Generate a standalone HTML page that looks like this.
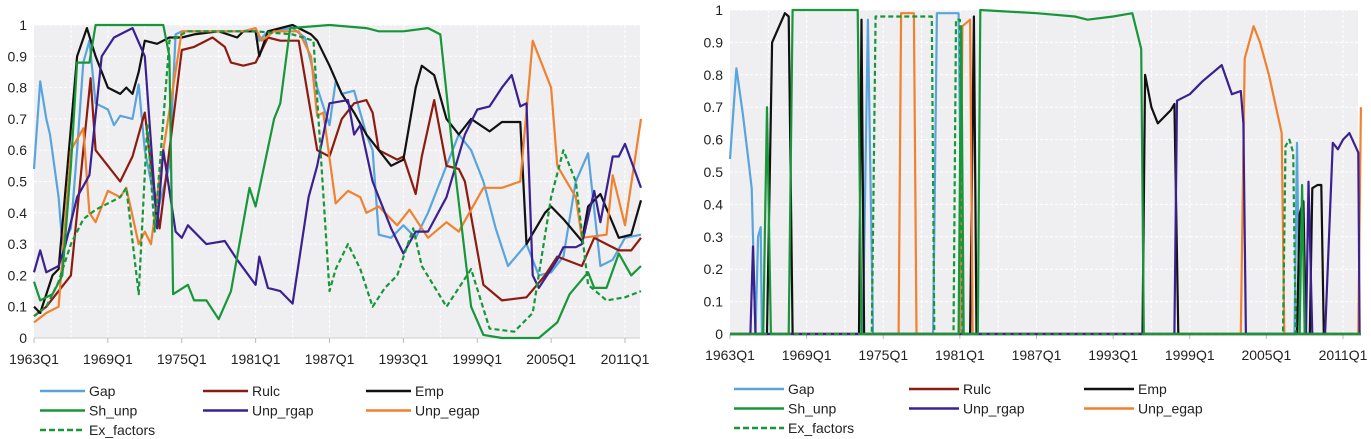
<!DOCTYPE html>
<html><head><meta charset="utf-8">
<style>
body{margin:0;background:#fff;width:1371px;height:439px;overflow:hidden}
svg{display:block;font-family:"Liberation Sans",sans-serif}
</style></head>
<body>
<svg id="c" width="1371" height="439"></svg>
<script>
// ---- Left panel data (year, value) ----
const L_gap_x=[1963,1963.5,1964,1964.3,1965,1965.3,1966,1966.5,1967,1967.5,1968,1969,1969.5,1970,1971,1971.5,1972,1973,1974,1974.5,1975,1981,1981.3,1982,1984,1985,1986,1987,1987.5,1988,1989,1990,1990.5,1991,1992,1993,1994,1995,1996,1997,1997.5,1998.5,1999.5,2000.5,2001.5,2003,2004,2005,2006,2007,2008,2009,2010,2011,2012.3];
const L_gap_y=[0.54,0.82,0.7,0.65,0.45,0.3,0.35,0.6,0.88,0.95,0.75,0.73,0.68,0.71,0.7,0.81,0.6,0.4,0.55,0.97,0.98,0.98,0.95,0.98,0.99,0.96,0.8,0.68,0.82,0.78,0.79,0.65,0.6,0.33,0.32,0.36,0.32,0.4,0.5,0.6,0.65,0.6,0.5,0.35,0.23,0.3,0.2,0.21,0.26,0.5,0.59,0.23,0.25,0.32,0.33];
const L_rulc_x=[1963,1964,1965,1966,1967,1967.6,1968,1969,1970,1971,1972,1972.5,1973.2,1974,1975,1976,1977.5,1978.5,1979,1980,1981,1982,1983,1984.5,1986,1987,1988,1989,1990,1990.5,1991,1992.5,1993,1994,1994.5,1995.5,1996.5,1997.5,1998,1999.5,2001,2003,2004.5,2005.5,2007.5,2008.5,2009.5,2010.5,2011.5,2012.3];
const L_rulc_y=[0.07,0.1,0.15,0.2,0.6,0.83,0.6,0.55,0.5,0.58,0.72,0.55,0.35,0.6,0.92,0.93,0.96,0.93,0.88,0.87,0.88,0.96,0.95,0.95,0.6,0.58,0.7,0.75,0.76,0.72,0.6,0.57,0.58,0.46,0.58,0.76,0.55,0.54,0.5,0.17,0.12,0.13,0.2,0.26,0.23,0.32,0.3,0.28,0.28,0.32];
const L_emp_x=[1963,1963.5,1964.5,1965,1966.5,1967.3,1968,1969,1970,1970.5,1971,1971.5,1972,1973,1974,1975,1976,1978,1979.5,1980,1981,1981.3,1982,1984,1985.5,1986,1987,1988,1989,1990,1991,1992,1993,1994,1994.5,1995.5,1996.5,1997.5,1998.5,2000,2001,2002.5,2003,2004.5,2005,2006,2007.5,2008,2009,2010.5,2011.5,2012.3];
const L_emp_y=[0.1,0.08,0.2,0.22,0.9,0.99,0.9,0.8,0.78,0.8,0.78,0.85,0.95,0.94,0.96,0.96,0.97,0.98,0.96,0.98,0.98,0.9,0.98,1.0,0.97,0.95,0.87,0.78,0.72,0.65,0.6,0.55,0.57,0.8,0.87,0.84,0.7,0.65,0.7,0.66,0.69,0.69,0.3,0.4,0.42,0.38,0.31,0.42,0.46,0.32,0.33,0.44];
const L_sh_x=[1963,1963.5,1964.5,1965.3,1966,1966.5,1967.5,1968,1973.5,1974,1974.3,1975.5,1976,1977,1978,1979,1980.5,1981,1982.5,1983,1983.8,1987,1990,1991,1993,1995,1996,1997,1998.5,1999.5,2001,2004,2005.5,2006.5,2008,2008.5,2009.5,2010.5,2011.5,2012.3];
const L_sh_y=[0.18,0.12,0.14,0.2,0.55,0.88,0.88,1.0,1.0,0.9,0.14,0.17,0.12,0.12,0.06,0.15,0.48,0.42,0.7,0.75,0.99,1.0,0.99,0.98,0.98,0.99,0.97,0.6,0.1,0.01,0.0,0.0,0.05,0.14,0.21,0.16,0.16,0.27,0.2,0.23];
const L_rgap_x=[1963,1963.5,1964,1965,1965.5,1966.5,1967.5,1968.5,1969.5,1971,1972,1973,1973.5,1974.5,1975,1975.5,1977,1978.5,1979.5,1981,1981.3,1982,1983,1984,1985.3,1986,1987,1988.5,1989,1989.5,1990.5,1992,1993,1994,1995,1996.5,1998,1999,2000,2001,2001.8,2002.5,2003,2003.5,2004,2005.5,2006,2007,2007.5,2008.5,2009,2010,2010.5,2011,2012.3];
const L_rgap_y=[0.21,0.28,0.21,0.23,0.29,0.45,0.52,0.9,0.96,0.99,0.9,0.35,0.6,0.34,0.32,0.36,0.3,0.31,0.25,0.17,0.26,0.16,0.15,0.11,0.45,0.55,0.75,0.76,0.65,0.68,0.5,0.35,0.27,0.34,0.34,0.45,0.65,0.73,0.74,0.8,0.84,0.74,0.75,0.2,0.16,0.25,0.29,0.29,0.3,0.47,0.37,0.58,0.58,0.62,0.48];
const L_egap_x=[1963,1964,1965,1966,1967,1967.5,1968,1969,1970,1970.5,1971.5,1972,1972.5,1973.5,1975,1980,1981,1981.5,1982.5,1984.5,1985.5,1986,1986.5,1987.5,1988.5,1989.5,1990,1991,1992.5,1993.5,1995,1996.5,1997.5,1999.5,2001,2002.5,2003.5,2005,2005.5,2007,2007.5,2009.5,2010,2011,2012.3];
const L_egap_y=[0.05,0.08,0.1,0.6,0.67,0.4,0.37,0.47,0.45,0.48,0.3,0.34,0.3,0.6,0.98,0.98,0.99,0.95,0.98,0.98,0.9,0.71,0.72,0.43,0.47,0.45,0.4,0.42,0.36,0.41,0.32,0.37,0.34,0.48,0.48,0.5,0.95,0.8,0.55,0.45,0.32,0.33,0.52,0.36,0.7];
const L_ex_x=[1963,1964,1965,1966,1967,1968,1970,1970.5,1971.5,1972.2,1972.8,1974,1975.5,1981,1984,1985.7,1987,1987.5,1988.5,1989.5,1990.5,1991.5,1992.5,1993.8,1994.5,1996.5,1998.5,2000,2002,2003.5,2005,2006,2007,2008,2009.5,2011,2012.3];
const L_ex_y=[0.07,0.1,0.18,0.3,0.38,0.41,0.45,0.48,0.14,0.68,0.34,0.95,0.98,0.98,0.97,0.95,0.15,0.22,0.3,0.22,0.1,0.16,0.2,0.35,0.23,0.1,0.22,0.03,0.02,0.08,0.45,0.6,0.5,0.17,0.12,0.13,0.15];
// ---- Right panel data ----
const R_gap_x=[1963,1963.5,1964,1964.4,1964.7,1965,1965.2,1965.4,1965.5,1973.4,1973.8,1974.2,1978.9,1979.2,1980.9,1981.2,2007.2,2007.4,2007.6,2012.4];
const R_gap_y=[0.54,0.82,0.68,0.55,0.45,0,0.3,0.33,0,0,0.97,0,0,0.99,0.99,0,0,0.59,0,0];
const R_rulc_x=[1963,2012.4];
const R_rulc_y=[0,0];
const R_emp_x=[1963,1965.9,1966.3,1967.3,1967.6,1967.9,1973.1,1973.3,1973.5,1981.8,1982.1,1982.3,1995.3,1995.5,1996,1996.5,1997.5,1997.8,1998.1,2007.4,2007.6,2007.9,2008.1,2008.4,2008.6,2009,2009.3,2009.5,2012.4];
const R_emp_y=[0,0,0.9,0.99,0.98,0,0,0.97,0,0,0.98,0,0,0.8,0.7,0.65,0.69,0.71,0,0,0.37,0.41,0,0,0.45,0.46,0.46,0,0];
const R_sh_x=[1963,1965.6,1965.9,1966.2,1967.6,1967.9,1973,1973.3,1980.9,1981.1,1981.3,1982.4,1982.6,1987,1990,1991,1993,1994.5,1995.2,1995.4,2007.6,2007.8,2008,2012.4];
const R_sh_y=[0,0,0.7,0,0,1.0,1.0,0,0,0.95,0,0,1.0,0.99,0.98,0.97,0.98,0.99,0.88,0,0,0.46,0,0];
const R_rgap_x=[1963,1964.6,1964.8,1965,1997.8,1998,1999,2000,2001.5,2002.3,2003,2003.2,2003.4,2008.1,2008.3,2008.6,2009.6,2010.2,2010.6,2011,2011.5,2012.2,2012.3];
const R_rgap_y=[0,0,0.27,0,0,0.72,0.74,0.78,0.83,0.74,0.75,0.65,0,0,0.47,0,0,0.59,0.57,0.6,0.62,0.56,0];
const R_egap_x=[1963,1976.2,1976.4,1977.4,1977.6,1981,1981.2,1981.8,1982,2003,2003.3,2004,2004.5,2005.2,2006.2,2006.4,2012.2,2012.4];
const R_egap_y=[0,0,0.99,0.99,0,0,0.95,0.97,0,0,0.85,0.95,0.9,0.8,0.62,0,0,0.7];
const R_ex_x=[1963,1974.1,1974.4,1978.8,1979,1980.5,1980.7,1981,1981.2,2006.3,2006.5,2006.8,2007.1,2007.3,2012.4];
const R_ex_y=[0,0,0.98,0.98,0,0,0.97,0.97,0,0,0.58,0.6,0.56,0,0];
const yTicks=["0","0.1","0.2","0.3","0.4","0.5","0.6","0.7","0.8","0.9","1"];
const xTicks=["1963Q1","1969Q1","1975Q1","1981Q1","1987Q1","1993Q1","1999Q1","2005Q1","2011Q1"];
const legendNames=["Gap","Rulc","Emp","Sh_unp","Unp_rgap","Unp_egap","Ex_factors"];

const colors={gap:"#5aa4dd",rulc:"#8c1c10",emp:"#111111",sh:"#18963a",rgap:"#3b2190",egap:"#f0812f",ex:"#18963a"};
const NS="http://www.w3.org/2000/svg";
const svg=document.getElementById('c');
function mk(t,a,p){const e=document.createElementNS(NS,t);for(const k in a)e.setAttribute(k,a[k]);(p||svg).appendChild(e);return e;}

function panel(id,x0,x2011,xr,yTop,yBot,series,leg){
  const pxPerYear=(x2011-x0)/48;
  const sx=y=>x0+(y-1963)*pxPerYear;
  const sy=v=>yBot-v*(yBot-yTop);
  const g=mk('g',{});
  
  
  const bg=mk('rect',{x:x0,y:yTop,width:xr-x0,height:yBot-yTop,fill:"#efeff1"},g);
  
  
  for(let i=1;i<yTicks.length;i++){
    const gl=mk('line',{x1:x0,x2:xr,y1:sy(i/10),y2:sy(i/10),stroke:"#fff","stroke-width":1,"stroke-dasharray":"3,2"},g);
    
    
  }
  for(let yr=1966;yr<2013;yr+=3){
    const gl=mk('line',{x1:sx(yr),x2:sx(yr),y1:yTop,y2:yBot,stroke:"#fff","stroke-width":1,"stroke-dasharray":"3,2"},g);
    
    
  }
  yTicks.forEach((t,i)=>{
    const tx=mk('text',{x:x0-7,y:sy(i/10)+5,"text-anchor":"end","font-size":14,fill:"#222"},g);
    tx.textContent=t;
    
    
  });
  const ax=mk('line',{x1:x0,x2:xr,y1:yBot,y2:yBot,stroke:"#cfcfcf","stroke-width":1},g);
  
  
  xTicks.forEach((t,i)=>{
    const xx=sx(1963+6*i);
    const tk=mk('line',{x1:xx,x2:xx,y1:yBot,y2:yBot+5,stroke:"#bbb"},g);
    
    
    const tx=mk('text',{x:xx,y:yBot+26,"text-anchor":"middle","font-size":14,fill:"#222"},g);
    tx.textContent=t;
    
    
  });
  series.forEach(s=>{
    const pts=s.x.map((v,i)=>sx(v).toFixed(1)+","+sy(s.y[i]).toFixed(1)).join(" ");
    const a={points:pts,fill:"none",stroke:colors[s.k],"stroke-width":2.2,"stroke-linejoin":"round"};
    if(s.k==="ex")a["stroke-dasharray"]="5,3";
    const pl=mk('polyline',a,g);
    
    
  });
  const keys=["gap","rulc","emp","sh","rgap","egap","ex"];
  legendNames.forEach((n,i)=>{
    const col=i%3,row=Math.floor(i/3);
    const lx=leg.x+col*leg.dx, ly=leg.y+row*19.5;
    const a={x1:lx,x2:lx+leg.w,y1:ly,y2:ly,stroke:colors[keys[i]],"stroke-width":2.6};
    if(keys[i]==="ex")a["stroke-dasharray"]="6,3";
    const ln=mk('line',a,g);
    
    
    const tx=mk('text',{x:lx+leg.w+4,y:ly+5,"font-size":14,fill:"#222"},g);
    tx.textContent=n;
    
    
  });
}
const mkS=(p)=>[
 {k:"gap",n:"Gap",x:p.gap_x,y:p.gap_y},{k:"rulc",n:"Rulc",x:p.rulc_x,y:p.rulc_y},
 {k:"emp",n:"Emp",x:p.emp_x,y:p.emp_y},{k:"egap",n:"Unp_egap",x:p.egap_x,y:p.egap_y},
 {k:"rgap",n:"Unp_rgap",x:p.rgap_x,y:p.rgap_y},{k:"sh",n:"Sh_unp",x:p.sh_x,y:p.sh_y},
 {k:"ex",n:"Ex_factors",x:p.ex_x,y:p.ex_y}];
panel('left-panel',34,625,640,25,338,mkS({gap_x:L_gap_x,gap_y:L_gap_y,rulc_x:L_rulc_x,rulc_y:L_rulc_y,emp_x:L_emp_x,emp_y:L_emp_y,sh_x:L_sh_x,sh_y:L_sh_y,rgap_x:L_rgap_x,rgap_y:L_rgap_y,egap_x:L_egap_x,egap_y:L_egap_y,ex_x:L_ex_x,ex_y:L_ex_y}),{x:40,y:391,dx:163,w:45});
panel('right-panel',730,1343,1358,10,334,mkS({gap_x:R_gap_x,gap_y:R_gap_y,rulc_x:R_rulc_x,rulc_y:R_rulc_y,emp_x:R_emp_x,emp_y:R_emp_y,sh_x:R_sh_x,sh_y:R_sh_y,rgap_x:R_rgap_x,rgap_y:R_rgap_y,egap_x:R_egap_x,egap_y:R_egap_y,ex_x:R_ex_x,ex_y:R_ex_y}),{x:734,y:389,dx:175,w:50});
</script>
</body></html>
